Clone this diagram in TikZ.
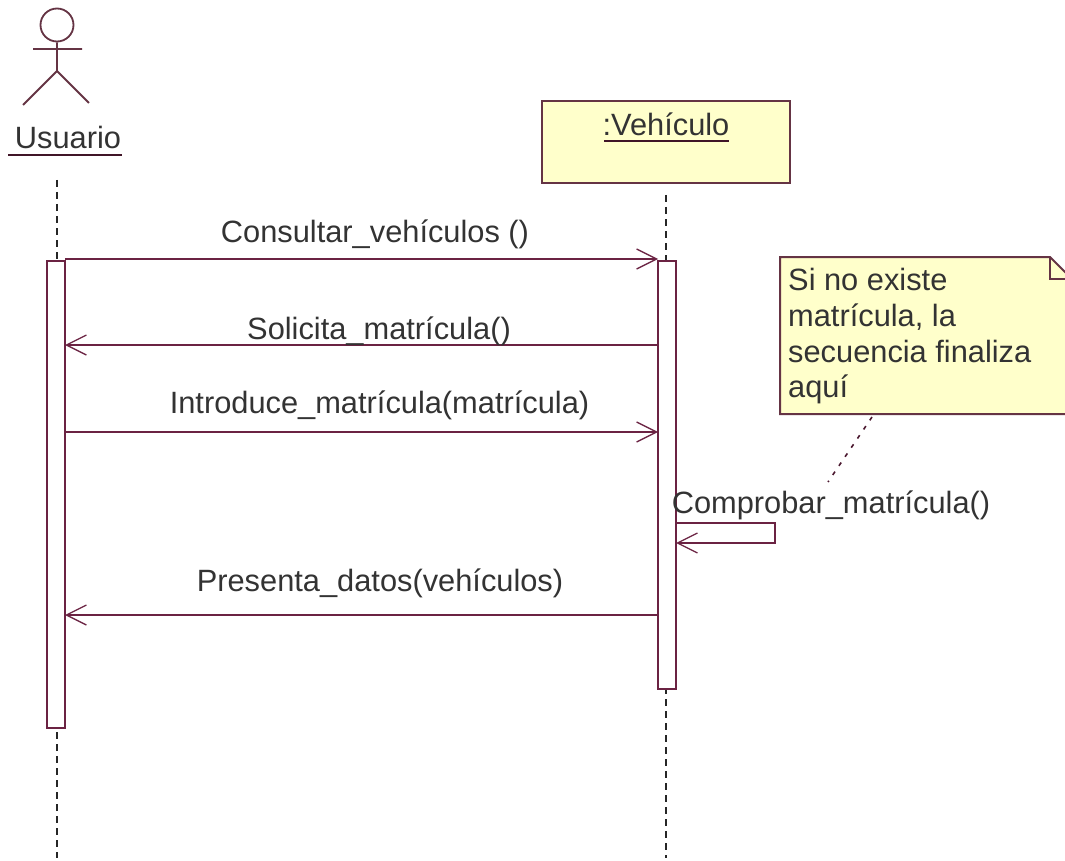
\documentclass[tikz,border=0pt]{standalone}
\usepackage{fontspec}
\setmainfont{Liberation Sans}
\usetikzlibrary{arrows.meta}
\definecolor{umlline}{HTML}{6B2343}
\definecolor{umlborder}{HTML}{653444}
\definecolor{umlfill}{HTML}{FFFFCB}
\definecolor{txt}{HTML}{333333}
\tikzset{
  x=1pt,y=-1pt,
  umlbox/.style={draw=umlborder,line width=2pt,fill=umlfill},
  activation/.style={draw=umlline,line width=1.8pt,fill=white,inner sep=0pt,minimum width=18pt},
  lifeline/.style={draw=black!85,line width=1.8pt,dash pattern=on 7pt off 5pt},
  msg/.style={draw=umlline,line width=1.8pt,-{Straight Barb[length=20pt,width=20pt,line width=1.3pt]}},
  label/.style={font=\fontsize{30.8}{36}\selectfont,text=txt,inner sep=0pt,anchor=base},
  noteline/.style={draw=umlline!70!black,line width=1.6pt,dash pattern=on 4pt off 7pt},
  actor/.style={draw=umlborder,line width=1.8pt}
}
\begin{document}
\begin{tikzpicture}
\useasboundingbox (0,0) rectangle (1065,861);
\fill[white] (0,0) rectangle (1065,861);
% actor
\node[circle,actor,minimum size=33pt,inner sep=0pt] (head) at (57,25) {};
\coordinate (hip) at (57,71);
\coordinate (armL) at (33,49);
\coordinate (armR) at (82,49);
\coordinate (legL) at (23,105);
\coordinate (legR) at (89,103);
\draw[actor] (head.south) -- (hip) (armL) -- (armR) (legL) -- (hip) -- (legR);
\node[label] (usuario) at (68,149) {Usuario};
\coordinate (uL) at (8,155); \coordinate (uR) at (122,155);
\draw[draw=umlline!60!black,line width=2pt] (uL) -- (uR);
% object box
\node[umlbox,minimum width=248pt,minimum height=82pt,inner sep=0pt] (veh) at (666,142) {};
\node[label] (vehlabel) at (666,136) {:Vehículo};
\coordinate (vL) at (604,141); \coordinate (vR) at (729,141);
\draw[draw=umlline!60!black,line width=2pt] (vL) -- (vR);
% lifelines
\coordinate (lu0) at (57,180); \coordinate (lu1) at (57,858);
\coordinate (lv0) at (666,195); \coordinate (lv1) at (666,858);
\draw[lifeline] (lu0) -- (lu1);
\draw[lifeline] (lv0) -- (lv1);
% activations
\node[activation,minimum height=467pt] (au) at (56,494.5) {};
\node[activation,minimum height=428pt] (av) at (667,475) {};
% messages
\coordinate (m1a) at (65,259); \coordinate (m1b) at (658,259);
\coordinate (m2a) at (658,345); \coordinate (m2b) at (65,345);
\coordinate (m3a) at (65,432); \coordinate (m3b) at (658,432);
\coordinate (m4a) at (658,615); \coordinate (m4b) at (65,615);
\coordinate (s0) at (676,523); \coordinate (s1) at (775,523);
\coordinate (s2) at (775,543); \coordinate (s3) at (676,543);
\draw[msg] (m1a) -- (m1b);
\draw[msg] (m2a) -- (m2b);
\draw[msg] (m3a) -- (m3b);
\draw[msg] (m4a) -- (m4b);
\draw[msg] (s0) -- (s1) -- (s2) -- (s3);
\node[label] (l1) at (375,242) {Consultar\_vehículos ()};
\node[label] (l2) at (379,339) {Solicita\_matrícula()};
\node[label] (l3) at (379.5,413) {Introduce\_matrícula(matrícula)};
\node[label] (l4) at (380,591) {Presenta\_datos(vehículos)};
\node[label] (l5) at (831,513) {Comprobar\_matrícula()};
% note
\draw[umlbox] (780,257) -- (1050,257) -- (1070,277) -- (1070,414) -- (780,414) -- cycle;
\draw[draw=umlborder,line width=1.8pt] (1050,257) -- (1050,279) -- (1070,279);
\node[label,anchor=base west] (n1) at (788,290) {Si no existe};
\node[label,anchor=base west] (n2) at (788,326) {matrícula, la};
\node[label,anchor=base west] (n3) at (788,362) {secuencia finaliza};
\node[label,anchor=base west] (n4) at (788,397) {aquí};
\coordinate (nA) at (872,417); \coordinate (nB) at (828,482);
\draw[noteline] (nA) -- (nB);
\end{tikzpicture}
\end{document}
